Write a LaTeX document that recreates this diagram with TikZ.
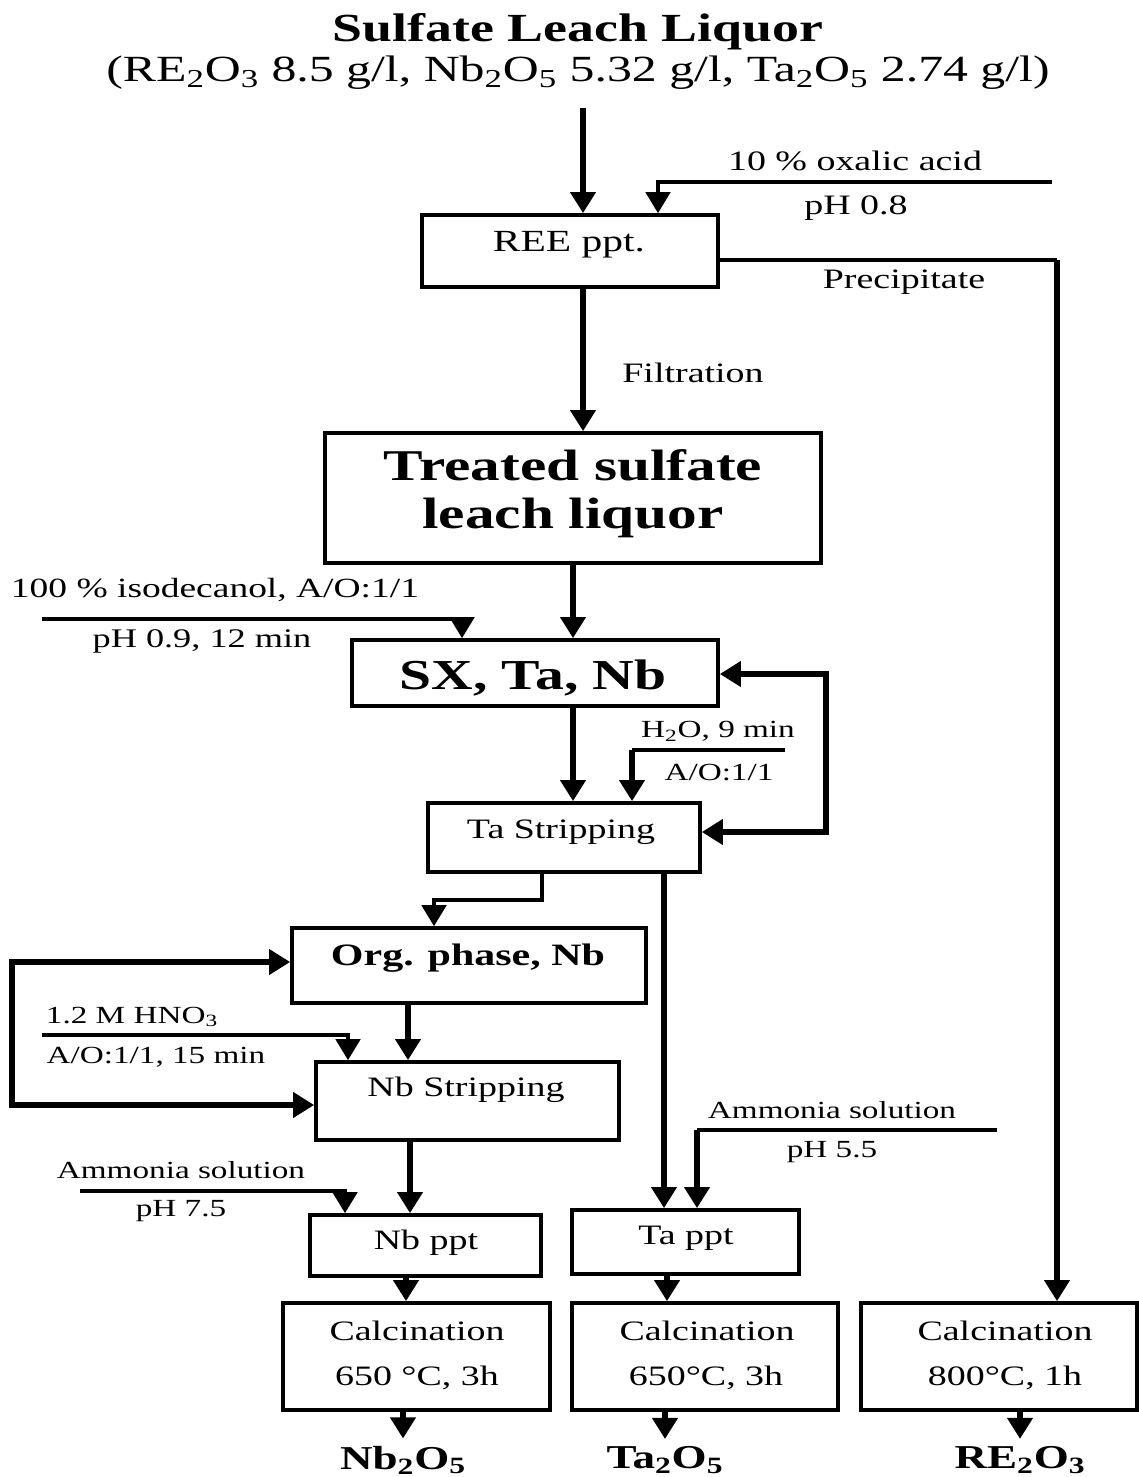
\documentclass[tikz,border=0pt]{standalone}
\usepackage{fontspec}
\setmainfont{Liberation Serif}[FakeStretch=1.35]
\usetikzlibrary{arrows.meta}
\tikzset{
  box/.style={draw, line width=2.1pt, rectangle, inner sep=0pt},
  mainln/.style={line width=3.2pt},
  reagln/.style={line width=1.9pt},
  tip/.style={-{Triangle[width=14pt,length=12pt]}},
  tips/.style={{Triangle[width=14pt,length=12pt]}-{Triangle[width=14pt,length=12pt]}},
  txt/.style={inner sep=0pt, font=\fontsize{16}{19}\selectfont},
  stxt/.style={inner sep=0pt, font=\fontsize{14}{17}\selectfont},
  btxt/.style={inner sep=0pt, font=\bfseries\fontsize{17.7}{21}\selectfont},
  ptxt/.style={inner sep=0pt, font=\bfseries\fontsize{19}{22}\selectfont},
}
\begin{document}
\begin{tikzpicture}[x=0.02cm,y=-0.02cm]
\useasboundingbox (0,0) rectangle (1139,1477);
% title
\node[inner sep=0pt, font=\bfseries\fontsize{22.7}{26}\selectfont] (title) at (578,32) {Sulfate Leach Liquor};
\node[inner sep=0pt, font=\fontsize{21}{25}\selectfont] (sub) at (578,73) {(RE\textsubscript{2}O\textsubscript{3} 8.5 g/l, Nb\textsubscript{2}O\textsubscript{5} 5.32 g/l, Ta\textsubscript{2}O\textsubscript{5} 2.74 g/l)};
% boxes
\node[box, minimum width=5.92cm, minimum height=1.44cm] (ree) at (570,251) {};
\node[box, minimum width=9.92cm, minimum height=2.6cm] (treated) at (573,498) {};
\node[box, minimum width=7.32cm, minimum height=1.32cm] (sx) at (535,673) {};
\node[box, minimum width=5.44cm, minimum height=1.38cm] (tas) at (564,837.5) {};
\node[box, minimum width=7.08cm, minimum height=1.5cm] (org) at (469,965.5) {};
\node[box, minimum width=6.06cm, minimum height=1.56cm] (nbs) at (467.5,1101) {};
\node[box, minimum width=4.62cm, minimum height=1.22cm] (nbppt) at (425.5,1245.5) {};
\node[box, minimum width=4.54cm, minimum height=1.28cm] (tappt) at (685.5,1242) {};
\node[box, minimum width=5.34cm, minimum height=2.14cm] (cal1) at (416.5,1356.5) {};
\node[box, minimum width=5.32cm, minimum height=2.14cm] (cal2) at (705,1356.5) {};
\node[box, minimum width=5.52cm, minimum height=2.14cm] (cal3) at (999,1356.5) {};
% box texts
\node[inner sep=0pt, font=\fontsize{17.5}{21}\selectfont] (reet) at (569,245) {REE ppt.};
\node[inner sep=0pt, align=center, font=\bfseries\fontsize{25}{27.3}\selectfont] (treatedt) at (573,494) {Treated sulfate\\leach liquor};
\node[inner sep=0pt, font=\bfseries\fontsize{24.3}{28}\selectfont] (sxt) at (533,678) {SX, Ta, Nb};
\node[txt] (tast) at (561,832) {Ta Stripping};
\node[btxt] (orgt) at (468,958) {Org. phase, Nb};
\node[txt] (nbst) at (466,1090) {Nb Stripping};
\node[txt] (nbpptt) at (426,1243) {Nb ppt};
\node[txt] (tapptt) at (686,1238) {Ta ppt};
\node[txt] (cal1a) at (417,1331) {Calcination};
\node[txt] (cal1b) at (417,1378) {650 °C, 3h};
\node[txt] (cal2a) at (707,1331) {Calcination};
\node[txt] (cal2b) at (706,1378) {650°C, 3h};
\node[txt] (cal3a) at (1005,1331) {Calcination};
\node[txt] (cal3b) at (1005,1378) {800°C, 1h};
% products
\node[ptxt] (p1) at (403,1460) {Nb\textsubscript{2}O\textsubscript{5}};
\node[ptxt] (p2) at (665,1460) {Ta\textsubscript{2}O\textsubscript{5}};
\node[ptxt] (p3) at (1020,1460) {RE\textsubscript{2}O\textsubscript{3}};
% labels
\node[txt] (l1) at (855,161) {10 \% oxalic acid};
\node[txt] (l2) at (856,208) {pH 0.8};
\node[txt] (l3) at (904,282) {Precipitate};
\node[txt] (l4) at (693,373) {Filtration};
\node[txt, font=\fontsize{15.8}{19}\selectfont] (l5) at (215,590) {100 \% isodecanol, A/O:1/1};
\node[txt, font=\fontsize{15.3}{19}\selectfont] (l6) at (202,641) {pH 0.9, 12 min};
\node[stxt] (l7) at (718,731) {H\textsubscript{2}O, 9 min};
\node[stxt] (l8) at (719,773) {A/O:1/1};
\node[stxt] (l9) at (132,1017) {1.2 M HNO\textsubscript{3}};
\node[stxt] (l10) at (156,1057) {A/O:1/1, 15 min};
\node[stxt] (l11) at (832,1110) {Ammonia solution};
\node[stxt] (l12) at (832,1152) {pH 5.5};
\node[stxt] (l13) at (181,1170) {Ammonia solution};
\node[stxt] (l14) at (181,1211) {pH 7.5};
% coordinates
\coordinate (feed) at (583,108);
\coordinate (ox) at (1052,182);
\coordinate (oxk) at (658,182);
\coordinate (pk) at (1057,260);
\coordinate (iso) at (42,619);
\coordinate (isok) at (462,619);
\coordinate (h2o) at (785,750);
\coordinate (h2ok) at (632,750);
\coordinate (lp1) at (826,674);
\coordinate (lp2) at (826,832);
\coordinate (t1) at (542,900);
\coordinate (t2) at (434,900);
\coordinate (t3) at (664,900);
\coordinate (c4) at (408,1030);
\coordinate (hn) at (42,1035);
\coordinate (hnk) at (348,1035);
\coordinate (ll1) at (12,962);
\coordinate (ll2) at (12,1105);
\coordinate (c5) at (410,1180);
\coordinate (am1) at (80,1191);
\coordinate (am1k) at (345,1191);
\coordinate (am2) at (997,1130);
\coordinate (am2k) at (697,1130);
\coordinate (c6) at (406,1290);
\coordinate (c7) at (667,1290);
% connectors
\draw[mainln, tip] (feed) -- (feed |- ree.north);
\draw[reagln, tip] (ox) -- (oxk) -- (oxk |- ree.north);
\draw[reagln] (pk -| ree.east) -- (pk);
\draw[mainln, tip] (pk) -- (pk |- cal3.north);
\draw[mainln, tip] (ree.south -| feed) -- (treated.north -| feed);
\draw[mainln, tip] (treated.south) -- (treated.south |- sx.north);
\draw[reagln, tip] (iso) -- (isok) -- (isok |- sx.north);
\draw[mainln, tip] (sx.south -| treated.south) -- (tas.north -| treated.south);
\draw[reagln] (h2o) -- (h2ok);
\draw[mainln, tip] (h2ok) -- (h2ok |- tas.north);
\draw[mainln, tips] (sx.east |- lp1) -- (lp1) -- (lp2) -- (lp2 -| tas.east);
\draw[reagln, tip] (t1 |- tas.south) -- (t1) -- (t2) -- (t2 |- org.north);
\draw[mainln, tip] (t3 |- tas.south) -- (t3 |- tappt.north);
\draw[mainln, tip] (c4 |- org.south) -- (c4 |- nbs.north);
\draw[reagln, tip] (hn) -- (hnk) -- (hnk |- nbs.north);
\draw[mainln, tips] (ll1 -| org.west) -- (ll1) -- (ll2) -- (ll2 -| nbs.west);
\draw[mainln, tip] (c5 |- nbs.south) -- (c5 |- nbppt.north);
\draw[reagln, tip] (am1) -- (am1k) -- (am1k |- nbppt.north);
\draw[reagln] (am2) -- (am2k);
\draw[mainln, tip] (am2k) -- (am2k |- tappt.north);
\draw[mainln, tip] (c6 |- nbppt.south) -- (c6 |- cal1.north);
\draw[mainln, tip] (c7 |- tappt.south) -- (c7 |- cal2.north);
\draw[mainln, tip] (cal1.south -| p1) -- ([yshift=4pt]p1.north);
\draw[mainln, tip] (cal2.south -| p2) -- ([yshift=4pt]p2.north);
\draw[mainln, tip] (cal3.south -| p3) -- ([yshift=4pt]p3.north);
\end{tikzpicture}
\end{document}
